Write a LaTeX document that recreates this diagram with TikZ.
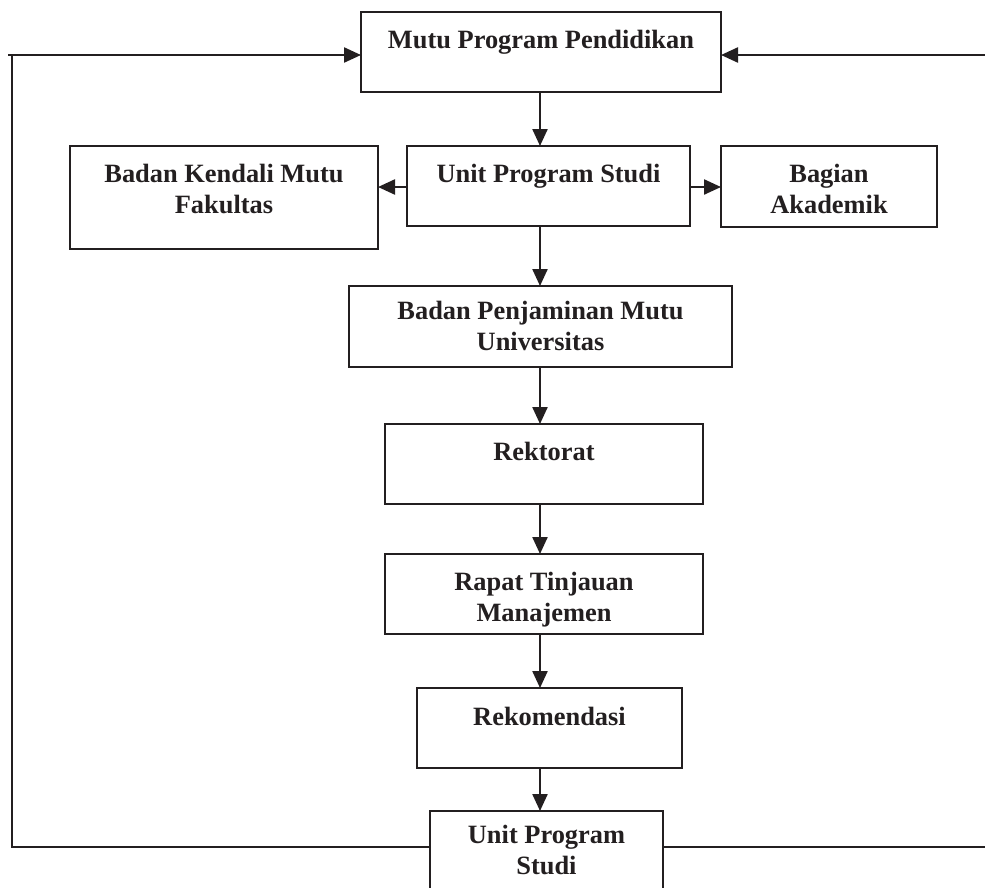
\documentclass[tikz,border=0pt]{standalone}
\usepackage{fontspec}
\setmainfont{Liberation Serif}
\usetikzlibrary{arrows.meta,calc}

\definecolor{ink}{RGB}{35,31,32}

% two centred lines whose baseline is that of the first line
\newcommand{\pairlines}[2]{\begin{tabular}[t]{@{}c@{}}#1\\#2\end{tabular}}

\tikzset{
  box/.style={draw=ink, line width=2.3pt, rectangle, inner sep=0pt, outer sep=0pt, fill=white},
  txt/.style={anchor=base, inner sep=0pt, text=ink,
              font=\bfseries\fontsize{26.4}{31}\selectfont},
  link/.style={draw=ink, line width=2.3pt},
  arr/.style={link, -{Triangle[length=17pt,width=15pt]}},
}

\begin{document}
\begin{tikzpicture}[x=1pt, y=-1pt]
  \useasboundingbox (0,0) rectangle (985,887);
  \clip (0,0) rectangle (985,887);

  % boxes
  \node[box, minimum width=360pt, minimum height=80pt] (A)  at (541,52)    {};
  \node[box, minimum width=283pt, minimum height=80pt] (B)  at (548.5,186) {};
  \node[box, minimum width=308pt, minimum height=103pt] (BK) at (224,197.5) {};
  \node[box, minimum width=216pt, minimum height=81pt] (BA) at (829,186.5) {};
  \node[box, minimum width=383pt, minimum height=81pt] (C)  at (540.5,326.5) {};
  \node[box, minimum width=318pt, minimum height=80pt] (D)  at (544,464)   {};
  \node[box, minimum width=318pt, minimum height=80pt] (E)  at (544,594)   {};
  \node[box, minimum width=265pt, minimum height=80pt] (F)  at (549.5,728) {};
  \node[box, minimum width=233pt, minimum height=120pt] (G) at (546.5,871) {};

  % labels, placed by the baseline of their first line
  \node[txt] (tA)  at ($(A.north)+(0,36)$)  {Mutu Program Pendidikan};
  \node[txt] (tB)  at ($(B.north)+(0,36)$)  {Unit Program Studi};
  \node[txt] (tBK) at ($(BK.north)+(0,36)$) {\pairlines{Badan Kendali Mutu}{Fakultas}};
  \node[txt] (tBA) at ($(BA.north)+(0,36)$) {\pairlines{Bagian}{Akademik}};
  \node[txt] (tC)  at ($(C.north)+(0,33)$)  {\pairlines{Badan Penjaminan Mutu}{Universitas}};
  \node[txt] (tD)  at ($(D.north)+(0,36)$)  {Rektorat};
  \node[txt] (tE)  at ($(E.north)+(0,36)$)  {\pairlines{Rapat Tinjauan}{Manajemen}};
  \node[txt] (tF)  at ($(F.north)+(0,37)$)  {Rekomendasi};
  \node[txt] (tG)  at ($(G.north)+(0,32)$)  {\pairlines{Unit Program}{Studi}};

  % the vertical spine and the corners of the feedback loop
  \coordinate (sx) at (540,0);
  \coordinate (lt) at (12,55);
  \coordinate (lb) at (12,847);
  \coordinate (rt) at (985,55);
  \coordinate (rb) at (985,847);
  \coordinate (mid) at (0,187);

  % main flow
  \draw[arr] (A.south -| sx) -- (B.north -| sx);
  \draw[arr] (B.south -| sx) -- (C.north -| sx);
  \draw[arr] (C.south -| sx) -- (D.north -| sx);
  \draw[arr] (D.south -| sx) -- (E.north -| sx);
  \draw[arr] (E.south -| sx) -- (F.north -| sx);
  \draw[arr] (F.south -| sx) -- (G.north -| sx);

  % side branches
  \draw[arr] (mid -| B.west) -- (mid -| BK.east);
  \draw[arr] (mid -| B.east) -- (mid -| BA.west);

  % feedback loop
  \draw[arr] (lb -| G.west) -- (lb) -- (lt) -- ++(-4,0) -- (lt -| A.west);
  \draw[arr] (rt) -- (rt -| A.east);
  \draw[link] (rb -| G.east) -- (rb);
\end{tikzpicture}
\end{document}
